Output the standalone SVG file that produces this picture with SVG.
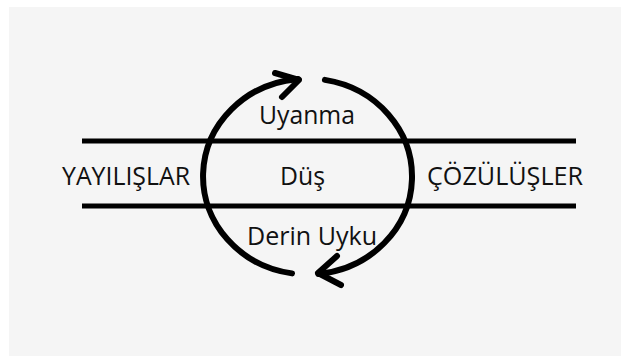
<svg xmlns="http://www.w3.org/2000/svg" width="621" height="356" viewBox="0 0 621 356">
  <style>
    .band { stroke: #000; stroke-width: 5; stroke-linecap: butt; fill: none; }
    .arc { stroke: #000; stroke-width: 6; stroke-linecap: round; fill: none; }
    .head { stroke: #000; stroke-width: 6; stroke-linecap: round; stroke-linejoin: round; fill: none; }
    .label { font-family: "Open Sans", "DejaVu Sans", sans-serif; font-size: 25px; fill: #111111; }
  </style>

  <!-- page -->
  <rect x="0" y="0" width="621" height="356" fill="#ffffff"/>
  <rect x="9" y="7" width="612" height="349" fill="#f5f5f5"/>

  <!-- connectors: horizontal band and the sleep/wake cycle -->
  <g id="connectors">
    <line class="band" x1="82" y1="141" x2="576" y2="141"/>
    <line class="band" x1="82" y1="206" x2="576" y2="206"/>

    <!-- left half: bottom up to top, clockwise -->
    <path class="arc" d="M 292 273.4 A 104.5 98 0 0 1 298 78.9"/>
    <polyline class="head" points="275,73 299,80 282,97"/>

    <!-- right half: top down to bottom, clockwise -->
    <path class="arc" d="M 324.9 79.9 A 104.5 98 0 0 1 318.4 274"/>
    <polyline class="head" points="337,256 318,273 341,285"/>
  </g>

  <g id="uyanma">
    <text class="label" x="259" y="124" textLength="96" lengthAdjust="spacingAndGlyphs">Uyanma</text>
  </g>
  <g id="dus">
    <text class="label" x="280" y="185" textLength="45" lengthAdjust="spacingAndGlyphs">Düş</text>
  </g>
  <g id="derin-uyku">
    <text class="label" x="247" y="245" textLength="130" lengthAdjust="spacingAndGlyphs">Derin Uyku</text>
  </g>
  <g id="yayilislar">
    <text class="label" x="62" y="185" textLength="128" lengthAdjust="spacingAndGlyphs">YAYILIŞLAR</text>
  </g>
  <g id="cozulusler">
    <text class="label" x="427" y="185" textLength="156" lengthAdjust="spacingAndGlyphs">ÇÖZÜLÜŞLER</text>
  </g>
</svg>
